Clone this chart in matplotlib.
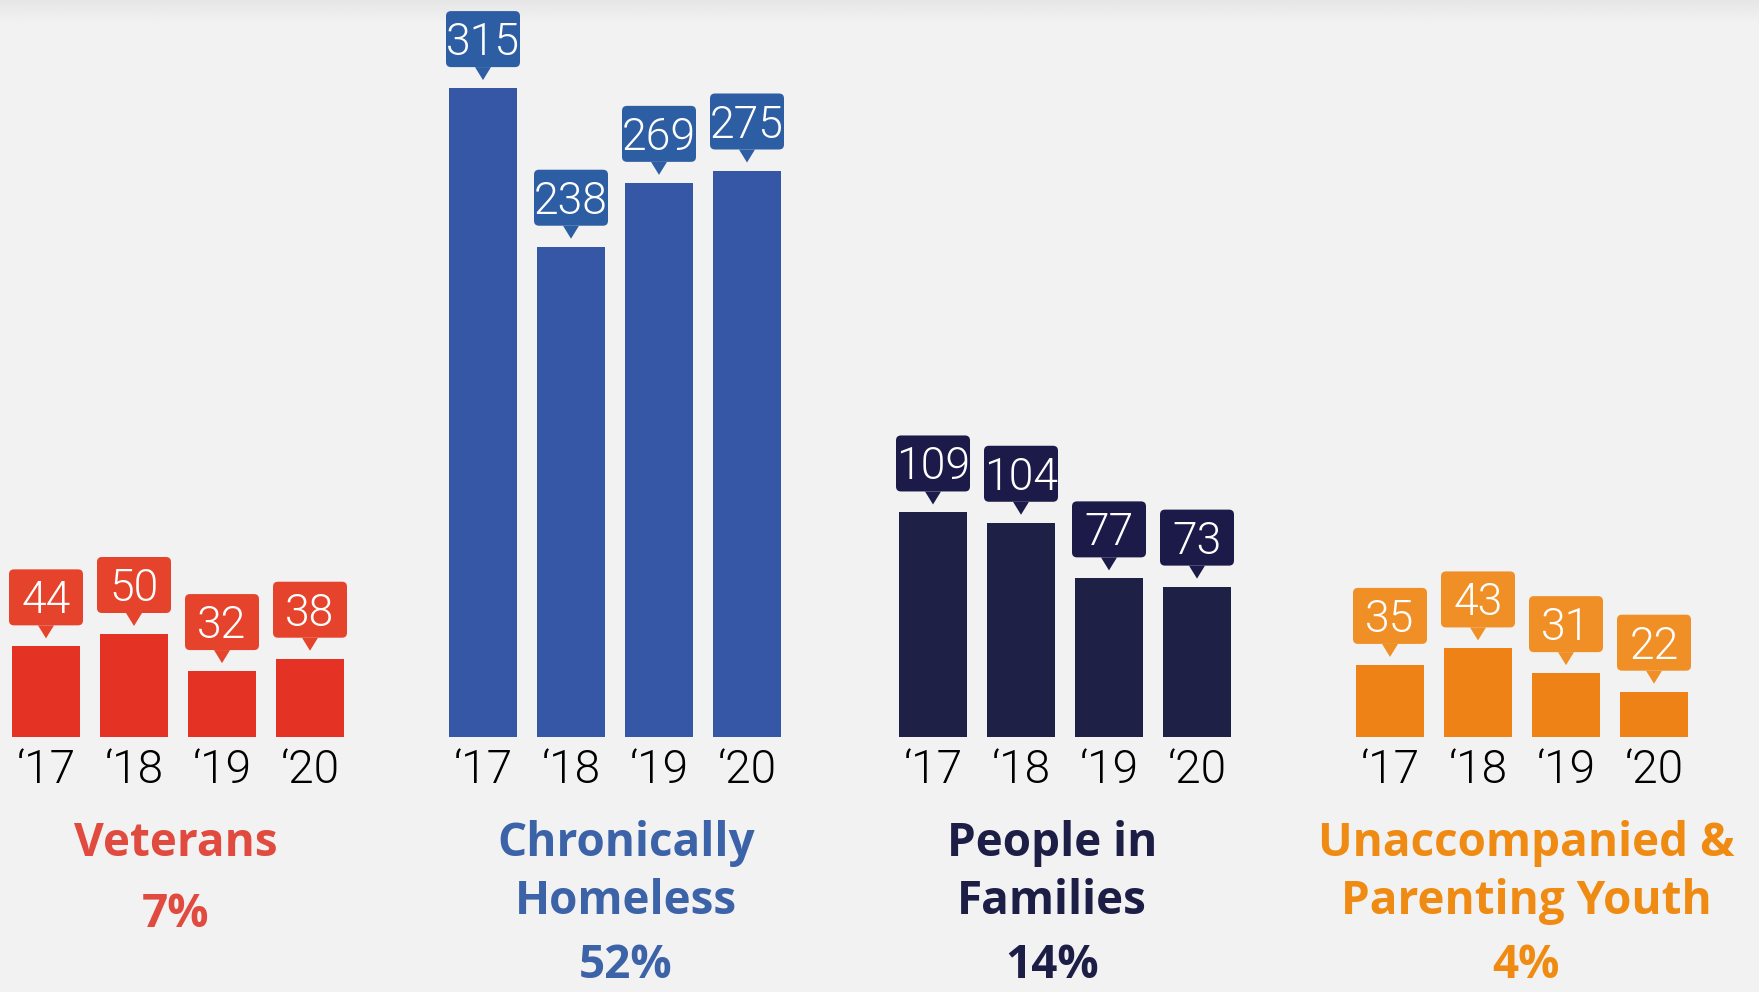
import numpy as np
import matplotlib.pyplot as plt
from matplotlib.patches import FancyBboxPatch, Polygon

# data
years = ["\u201817", "\u201818", "\u201819", "\u201820"]
groups = ["Veterans", "Chronically\nHomeless", "People in\nFamilies", "Unaccompanied &\nParenting Youth"]
shares = ["7%", "52%", "14%", "4%"]
veterans = [44, 50, 32, 38]
chronic = [315, 238, 269, 275]
families = [109, 104, 77, 73]
youth = [35, 43, 31, 22]
series = [veterans, chronic, families, youth]

bar_colors = ["#E43224", "#3656A6", "#1E2046", "#EE8216"]
box_colors = ["#E5432B", "#2D5DA3", "#1B1A48", "#EF8F26"]
title_colors = ["#E04A3F", "#3C62A8", "#1D1E46", "#EF8B12"]

W, H = 1759, 992
PX = 2.06          # pixels per unit
BASE = 737         # baseline, px from top
group_x = [46, 483, 933, 1390]
step = 88
bar_w = 68
title_x = [176, 626, 1052, 1526]


def ydat(ytop):
    # px from top -> data units
    return (BASE - ytop) / PX


fig = plt.figure(figsize=(W / 100, H / 100), dpi=100)
fig.patch.set_facecolor("#F2F2F2")
ax = fig.add_axes([0, 0, 1, 1])
ax.set_facecolor("#F2F2F2")
ax.set_xlim(0, W)
ax.set_ylim(ydat(H), ydat(0))
ax.axis("off")

# faint shading along the top edge
grad = np.linspace(0.90, 0.949, 24)[:, None] * np.ones((1, 10))
ax.imshow(grad, cmap="gray", vmin=0, vmax=1, extent=(0, W, ydat(24), ydat(0)),
          aspect="auto", zorder=0)

num_font = dict(family=["Roboto", "DejaVu Sans"], weight=300)
bold_font = dict(family=["Open Sans", "DejaVu Sans"], weight="bold")

for g, vals in enumerate(series):
    xs = group_x[g] + step * np.arange(len(vals))
    ax.bar(xs, vals, width=bar_w, color=bar_colors[g], zorder=2)

    for x, v, yr in zip(xs, vals, years):
        tip = v + 8 / PX
        tri_top = tip + 13 / PX
        ax.add_patch(Polygon([[x - 8, tri_top], [x + 8, tri_top], [x, tip]],
                             closed=True, color=box_colors[g], lw=0, zorder=3))
        box = FancyBboxPatch((x - 37, tri_top), 74, 56 / PX,
                             boxstyle="round,pad=0,rounding_size=5",
                             mutation_aspect=1 / PX,
                             fc=box_colors[g], ec="none", zorder=3)
        ax.add_patch(box)
        ax.text(x, tri_top + 12 / PX, str(v), color="white", fontsize=32,
                ha="center", va="baseline", zorder=4, **num_font)
        ax.text(x, ydat(783), yr, color="black", fontsize=33,
                ha="center", va="baseline", **num_font)

    lines = groups[g].split("\n")
    for i, line in enumerate(lines):
        ax.text(title_x[g], ydat(856 + 58 * i), line, color=title_colors[g],
                fontsize=33, ha="center", va="baseline", **bold_font)
    share_y = min(856 + 58 * (len(lines) - 1) + 71, 978)
    ax.text(title_x[g], ydat(share_y), shares[g],
            color=title_colors[g], fontsize=33, ha="center", va="baseline", **bold_font)

fig.savefig("out.png", dpi=100, facecolor=fig.get_facecolor())
